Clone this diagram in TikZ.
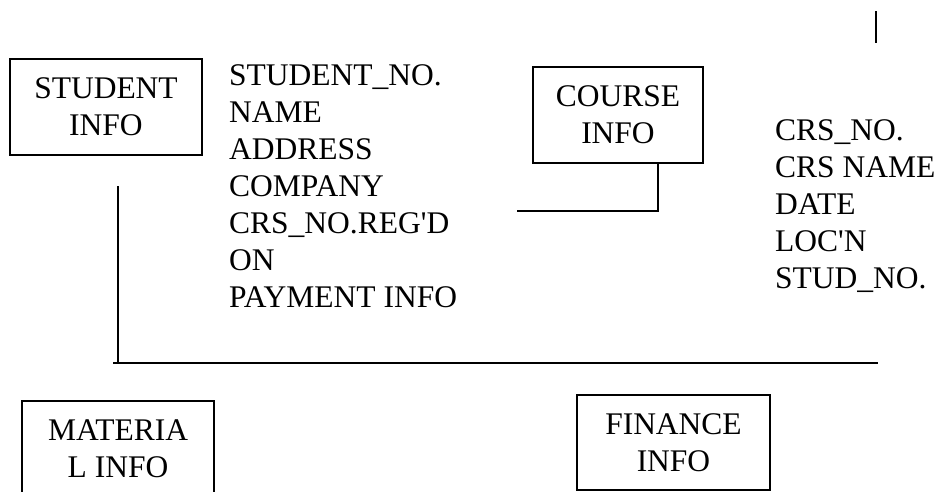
\documentclass[tikz,border=0pt]{standalone}
\usepackage{fontspec}
\setmainfont{Liberation Serif}[Ligatures=TeXOff]
\begin{document}
\begin{tikzpicture}[x=1pt,y=-1pt,
  every node/.style={font=\fontsize{31.5}{37}\selectfont},
  infobox/.style={draw,line width=2pt,inner sep=0pt,align=center},
  fieldlist/.style={align=left,inner sep=0pt,anchor=north west},
  link/.style={line width=2pt}]
  \clip (0,0) rectangle (938,491);
  \fill[white] (0,0) rectangle (938,491);

  % entity boxes
  \node[infobox,minimum width=192pt,minimum height=96pt] (student) at (106,107) {STUDENT\\INFO};
  \node[infobox,minimum width=170pt,minimum height=96pt] (course) at (618,115) {COURSE\\INFO};
  \node[infobox,minimum width=192pt,minimum height=96pt] (material) at (118,449) {MATERIA\\L INFO};
  \node[infobox,minimum width=193pt,minimum height=95pt] (finance) at (673.5,442.5) {FINANCE\\INFO};

  % attribute lists
  \node[fieldlist] (studfields) at (229,64) {STUDENT\_NO.\\NAME\\ADDRESS\\COMPANY\\CRS\_NO.REG'D\\ON\\PAYMENT INFO};
  \node[fieldlist] (crsfields) at (775,119) {CRS\_NO.\\CRS NAME\\DATE\\LOC'N\\STUD\_NO.};

  % connector below the course box
  \coordinate (cdrop) at (course.south -| 658,0);
  \coordinate (cend) at (517,211);
  \draw[link] (cdrop) |- (cend);

  % bus line running down from the student side and across
  \coordinate (vtop) at (118,186);
  \coordinate (vbot) at (118,363);
  \coordinate (hleft) at (113,363);
  \coordinate (hright) at (878,363);
  \draw[link] (vtop) -- (vbot);
  \draw[link] (hleft) -- (hright);

  % short tick at the top right
  \coordinate (tickA) at (876,11);
  \coordinate (tickB) at (876,43);
  \draw[link] (tickA) -- (tickB);
\end{tikzpicture}
\end{document}
